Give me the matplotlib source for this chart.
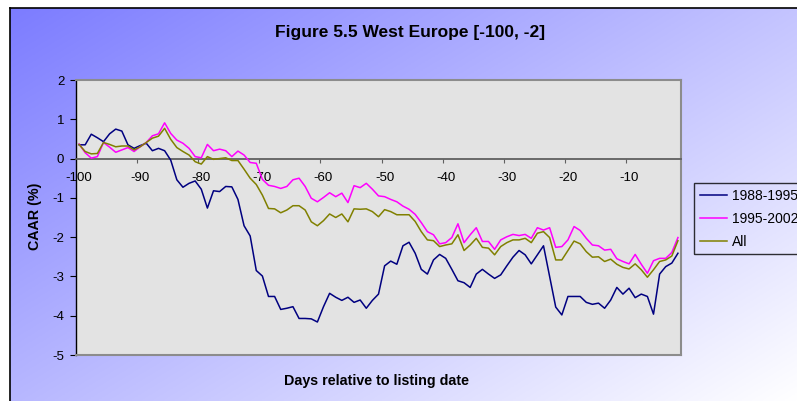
import matplotlib.pyplot as plt
import numpy as np

plt.rcParams['font.family'] = ['Liberation Sans', 'DejaVu Sans']
plt.rcParams['axes.unicode_minus'] = False

# ---- data: CAAR (%) for days -100 .. -2 ----
days = list(range(-100, -1))

caar_1988_1995 = [
    0.35, 0.35, 0.62, 0.53, 0.43, 0.63, 0.75, 0.70, 0.35, 0.26,
    0.33, 0.39, 0.20, 0.26, 0.20, -0.04, -0.54, -0.73, -0.63, -0.57,
    -0.78, -1.26, -0.82, -0.84, -0.71, -0.72, -1.04, -1.71, -1.97, -2.85,
    -2.99, -3.51, -3.51, -3.84, -3.81, -3.77, -4.07, -4.07, -4.08, -4.16,
    -3.77, -3.43, -3.53, -3.61, -3.53, -3.66, -3.60, -3.81, -3.61, -3.45,
    -2.73, -2.61, -2.69, -2.22, -2.13, -2.41, -2.82, -2.94, -2.58, -2.44,
    -2.54, -2.82, -3.11, -3.16, -3.28, -2.94, -2.82, -2.94, -3.05, -2.96,
    -2.73, -2.51, -2.34, -2.45, -2.68, -2.45, -2.22, -3.00, -3.78, -3.98,
    -3.51, -3.51, -3.51, -3.66, -3.71, -3.68, -3.81, -3.60, -3.28, -3.45,
    -3.30, -3.54, -3.45, -3.51, -3.96, -2.94, -2.75, -2.66, -2.41,
]

caar_1995_2002 = [
    0.37, 0.15, 0.01, 0.05, 0.41, 0.29, 0.16, 0.22, 0.28, 0.18,
    0.30, 0.41, 0.58, 0.63, 0.91, 0.64, 0.47, 0.39, 0.26, 0.05,
    0.02, 0.36, 0.20, 0.24, 0.20, 0.05, 0.19, 0.09, -0.10, -0.12,
    -0.53, -0.68, -0.71, -0.76, -0.71, -0.54, -0.50, -0.71, -1.01, -1.10,
    -0.99, -0.87, -0.97, -0.88, -1.12, -0.69, -0.74, -0.63, -0.78, -0.95,
    -0.97, -1.04, -1.10, -1.21, -1.29, -1.42, -1.63, -1.86, -1.94, -2.17,
    -2.14, -2.01, -1.66, -2.14, -1.94, -1.76, -2.11, -2.11, -2.31, -2.07,
    -1.99, -1.93, -1.96, -1.93, -2.03, -1.76, -1.82, -1.76, -2.26, -2.24,
    -2.07, -1.73, -1.83, -2.03, -2.20, -2.22, -2.33, -2.31, -2.55, -2.62,
    -2.68, -2.44, -2.69, -2.92, -2.60, -2.54, -2.54, -2.39, -2.01,
]

caar_all = [
    0.36, 0.18, 0.12, 0.13, 0.41, 0.36, 0.30, 0.32, 0.32, 0.22,
    0.30, 0.41, 0.52, 0.57, 0.77, 0.49, 0.28, 0.18, 0.09, -0.08,
    -0.14, 0.05, -0.02, 0.00, 0.02, -0.05, -0.05, -0.27, -0.50, -0.66,
    -0.93, -1.27, -1.28, -1.38, -1.31, -1.20, -1.20, -1.31, -1.61, -1.71,
    -1.58, -1.41, -1.50, -1.41, -1.61, -1.28, -1.29, -1.28, -1.35, -1.48,
    -1.30, -1.35, -1.43, -1.43, -1.43, -1.60, -1.86, -2.07, -2.09, -2.24,
    -2.20, -2.17, -1.94, -2.34, -2.20, -2.03, -2.26, -2.28, -2.45, -2.24,
    -2.14, -2.07, -2.07, -2.03, -2.14, -1.90, -1.86, -2.01, -2.58, -2.58,
    -2.34, -2.10, -2.17, -2.37, -2.51, -2.50, -2.62, -2.56, -2.69, -2.77,
    -2.81, -2.68, -2.83, -3.02, -2.83, -2.62, -2.58, -2.48, -2.09,
]

series_names = ['1988-1995', '1995-2002', 'All']
series_colors = ['#000080', '#ff00ff', '#808000']

W, H = 797, 401
fig = plt.figure(figsize=(W / 100, H / 100), dpi=100, facecolor='white')

# ---- chart area with diagonal gradient ----
bg = fig.add_axes([10 / W, 0, 1 - 10 / W, 1 - 8 / H], zorder=0)
gx, gy = np.meshgrid(np.linspace(0, 1, 400), np.linspace(0, 1, 200))
t = np.clip(0.55 * gx + 0.45 * gy, 0, 1)
c0 = np.array([124, 124, 255]) / 255
c1 = np.array([255, 255, 255]) / 255
bg.imshow(c0 + (c1 - c0) * t[..., None], extent=[0, 1, 0, 1],
          origin='upper', aspect='auto')
bg.set_xticks([])
bg.set_yticks([])
for s in ['right', 'bottom']:
    bg.spines[s].set_visible(False)
for s in ['left', 'top']:
    bg.spines[s].set_color('black')
    bg.spines[s].set_linewidth(1.2)

# ---- plot area ----
ax = fig.add_axes([76 / W, 1 - 355 / H, 605 / W, 275 / H], zorder=1)
ax.set_facecolor('#e3e3e3')

lines = []
for vals, name, col in zip([caar_1988_1995, caar_1995_2002, caar_all],
                           series_names, series_colors):
    ln, = ax.plot(days, vals, color=col, lw=1.1, label=name, zorder=3)
    lines.append(ln)

ax.set_xlim(-100.5, -1.5)
ax.set_ylim(-5, 2)

# x axis crosses at 0
ax.spines['bottom'].set_position(('data', 0))
ax.spines['bottom'].set_color('#606060')
ax.spines['bottom'].set_linewidth(1.3)
ax.spines['left'].set_color('black')
ax.spines['left'].set_linewidth(1.0)
for s in ['top', 'right']:
    ax.spines[s].set_color('#8c8c8c')
    ax.spines[s].set_linewidth(1.5)
ax.plot([0, 1], [0, 0], transform=ax.transAxes, color='#8c8c8c', lw=1.5,
        clip_on=False, zorder=4)

ax.set_xticks(np.arange(-90.5, -1, 10))
ax.set_xticks(range(-100, 0, 10), minor=True)
ax.set_xticklabels([str(v) for v in range(-100, 0, 10)], minor=True)
ax.tick_params(axis='x', which='major', direction='out', length=3,
               color='#606060', labelbottom=False)
ax.tick_params(axis='x', which='minor', length=0, pad=10, labelsize=9.5)

ax.set_yticks(range(-5, 3))
ax.tick_params(axis='y', direction='out', length=4, color='black',
               pad=4.5, labelsize=9.5)

# ---- texts ----
fig.text(410 / W, 1 - 33 / H, 'Figure 5.5 West Europe [-100, -2]',
         ha='center', va='center', fontsize=12.5, fontweight='bold')
fig.text(35 / W, 1 - 216.5 / H, 'CAAR (%)', rotation=90,
         ha='center', va='center', fontsize=10.3, fontweight='bold')
fig.text(376.5 / W, 1 - 381.5 / H, 'Days relative to listing date',
         ha='center', va='center', fontsize=10.3, fontweight='bold')

leg = fig.legend(handles=lines, loc='upper left',
                 bbox_to_anchor=(694 / W, 1 - 183 / H), fontsize=10,
                 frameon=True, fancybox=False, edgecolor='black',
                 facecolor='none', handlelength=1.95, handletextpad=0.4,
                 labelspacing=0.65, borderpad=0.4, borderaxespad=0)
leg.get_frame().set_linewidth(1.0)

fig.savefig('out.png', dpi=100, facecolor='white')
